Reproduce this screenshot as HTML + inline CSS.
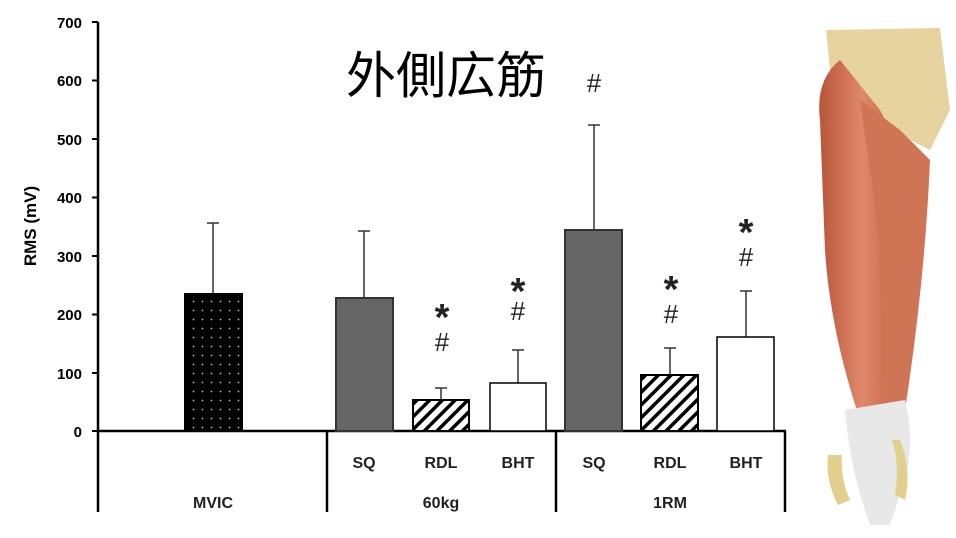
<!DOCTYPE html>
<html><head><meta charset="utf-8"><style>
html,body{margin:0;padding:0;background:#fff;width:956px;height:538px;overflow:hidden}
svg{display:block}
text{font-family:"Liberation Sans",sans-serif}
</style></head><body>
<svg width="956" height="538" viewBox="0 0 956 538" xmlns="http://www.w3.org/2000/svg">
<defs>
<pattern id="dots" width="9" height="9" patternUnits="userSpaceOnUse"><rect width="9" height="9" fill="#000"/><circle cx="4.5" cy="4.5" r="0.9" fill="#bbb"/></pattern>
<pattern id="hatch" width="9" height="9" patternUnits="userSpaceOnUse" patternTransform="rotate(45)"><rect width="9" height="9" fill="#fff"/><rect x="0" width="3.5" height="9" fill="#000"/></pattern>
<linearGradient id="mus" x1="0" x2="1"><stop offset="0" stop-color="#b8553a"/><stop offset="0.5" stop-color="#e0886a"/><stop offset="1" stop-color="#c0603f"/></linearGradient>
</defs>
<line x1="98" y1="22" x2="98" y2="512" stroke="#000" stroke-width="2.5"/>
<g stroke="#000" stroke-width="2">
<line x1="92" y1="22" x2="98" y2="22"/><line x1="92" y1="80.5" x2="98" y2="80.5"/><line x1="92" y1="139" x2="98" y2="139"/><line x1="92" y1="197.5" x2="98" y2="197.5"/><line x1="92" y1="256" x2="98" y2="256"/><line x1="92" y1="314.5" x2="98" y2="314.5"/><line x1="92" y1="373" x2="98" y2="373"/><line x1="92" y1="431" x2="98" y2="431"/>
</g>
<g font-size="15" font-weight="bold" text-anchor="end">
<text x="82" y="28">700</text><text x="82" y="86">600</text><text x="82" y="145">500</text><text x="82" y="203">400</text><text x="82" y="262">300</text><text x="82" y="320">200</text><text x="82" y="379">100</text><text x="82" y="437">0</text>
</g>
<text transform="translate(36,226) rotate(-90)" font-size="17" font-weight="bold" text-anchor="middle">RMS (mV)</text>
<line x1="97" y1="431" x2="786" y2="431" stroke="#000" stroke-width="2.5"/>
<line x1="327" y1="431" x2="327" y2="512" stroke="#000" stroke-width="2.5"/>
<line x1="556" y1="431" x2="556" y2="512" stroke="#000" stroke-width="2.5"/>
<line x1="785" y1="431" x2="785" y2="512" stroke="#000" stroke-width="2.5"/>
<g stroke="#333" stroke-width="1.5">
<line x1="213" y1="223" x2="213" y2="294"/><line x1="207" y1="223" x2="219" y2="223"/>
<line x1="364" y1="231" x2="364" y2="298"/><line x1="358" y1="231" x2="370" y2="231"/>
<line x1="441" y1="388" x2="441" y2="400"/><line x1="435" y1="388" x2="447" y2="388"/>
<line x1="518" y1="350" x2="518" y2="383"/><line x1="512" y1="350" x2="524" y2="350"/>
<line x1="594" y1="125" x2="594" y2="230"/><line x1="588" y1="125" x2="600" y2="125"/>
<line x1="670" y1="348" x2="670" y2="375"/><line x1="664" y1="348" x2="676" y2="348"/>
<line x1="746" y1="291" x2="746" y2="337"/><line x1="740" y1="291" x2="752" y2="291"/>
</g>
<rect x="185" y="294" width="57" height="137" fill="url(#dots)" stroke="#000" stroke-width="2"/>
<rect x="336" y="298" width="57" height="133" fill="#666" stroke="#333" stroke-width="2"/>
<rect x="413" y="400" width="56" height="31" fill="url(#hatch)" stroke="#000" stroke-width="2"/>
<rect x="490" y="383" width="56" height="48" fill="#fff" stroke="#000" stroke-width="1.5"/>
<rect x="565" y="230" width="57" height="201" fill="#666" stroke="#333" stroke-width="2"/>
<rect x="641" y="375" width="57" height="56" fill="url(#hatch)" stroke="#000" stroke-width="2"/>
<rect x="717" y="337" width="57" height="94" fill="#fff" stroke="#000" stroke-width="1.5"/>
<g font-size="26" text-anchor="middle" fill="#222">
<text x="442" y="330" font-size="38" font-weight="bold">*</text><text x="442" y="351">#</text>
<text x="518" y="304" font-size="38" font-weight="bold">*</text><text x="518" y="320">#</text>
<text x="671" y="302" font-size="38" font-weight="bold">*</text><text x="671" y="323">#</text>
<text x="746" y="245" font-size="38" font-weight="bold">*</text><text x="746" y="266">#</text>
<text x="594" y="92">#</text>
</g>
<text x="446" y="93" font-size="50" text-anchor="middle" font-family="'Noto Sans CJK JP',sans-serif">外側広筋</text>
<g font-size="16" font-weight="bold" text-anchor="middle" fill="#222">
<text x="364" y="468">SQ</text><text x="441" y="468">RDL</text><text x="518" y="468">BHT</text>
<text x="594" y="468">SQ</text><text x="670" y="468">RDL</text><text x="746" y="468">BHT</text>
<text x="213" y="508">MVIC</text><text x="441" y="508">60kg</text><text x="670" y="508">1RM</text>
</g>
<path d="M826 30 L940 28 L950 110 L930 150 L890 130 L860 110 L830 70 Z" fill="#e6d3a0"/>
<path d="M820 120 Q815 80 840 60 L880 110 L905 160 Q900 250 890 400 L860 420 Q830 330 825 250 Z" fill="url(#mus)"/>
<path d="M860 100 L900 130 L930 160 Q925 280 905 410 L880 420 Q885 260 870 170 Z" fill="#d07456"/>
<path d="M845 410 L905 400 Q915 440 905 480 L890 525 L870 525 Q850 470 845 410 Z" fill="#e8e8e8"/>
<path d="M828 455 Q825 480 838 505 L850 500 Q840 478 842 455 Z" fill="#e2cf8e"/>
<path d="M900 440 Q912 470 905 500 L895 495 Q900 465 892 440 Z" fill="#e2cf8e"/>
</svg>
</body></html>
